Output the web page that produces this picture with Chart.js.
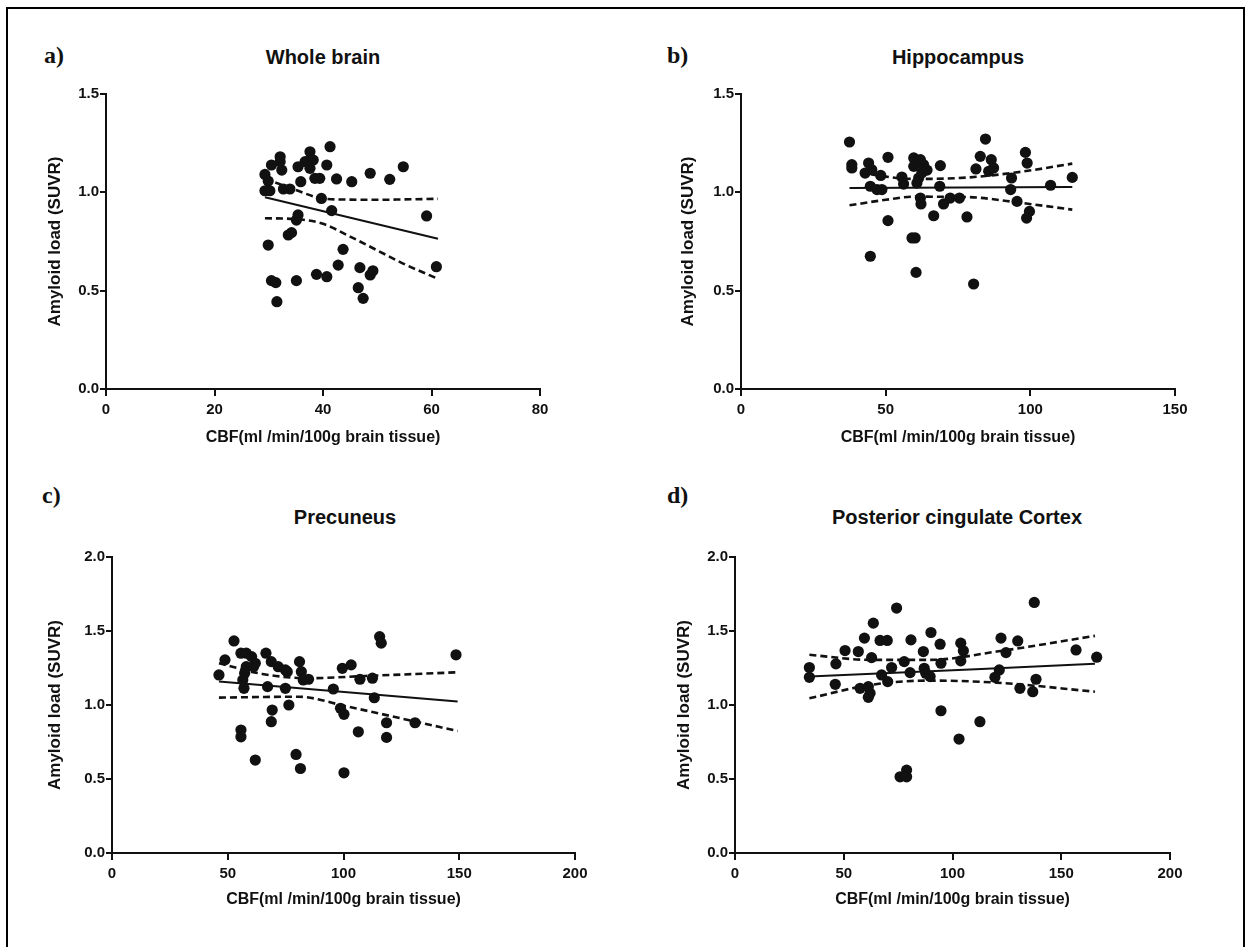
<!DOCTYPE html>
<html>
<head>
<meta charset="utf-8">
<title>CBF vs amyloid load</title>
<script src="https://cdn.jsdelivr.net/npm/chart.js@4.4.1/dist/chart.umd.min.js"></script>
<style>
  html, body { margin:0; padding:0; background:#fff; }
  #page { position:relative; width:1250px; height:947px; overflow:hidden; font-family:"Liberation Sans", Arial, sans-serif; }
  #frame { position:absolute; left:6px; top:7px; width:1235px; height:980px; border:2px solid #000; }
  .panel { position:absolute; }
  .tag { position:absolute; font-family:"Liberation Serif", "Times New Roman", serif; font-weight:bold; font-size:24px; line-height:24px; color:#111; }
  .ttl { position:absolute; width:400px; text-align:center; font-weight:bold; font-size:20px; line-height:24px; color:#111; }
</style>
</head>
<body>
<div id="page">
  <div id="frame"></div>

  <div class="tag" style="left:44px; top:43px;">a)</div>
  <div class="tag" style="left:667px; top:43px;">b)</div>
  <div class="tag" style="left:42px; top:483px;">c)</div>
  <div class="tag" style="left:667px; top:483px;">d)</div>

  <div class="ttl" style="left:123px; top:45px;">Whole brain</div>
  <div class="ttl" style="left:758px; top:45px;">Hippocampus</div>
  <div class="ttl" style="left:145px; top:505px;">Precuneus</div>
  <div class="ttl" style="left:757px; top:505px;">Posterior cingulate Cortex</div>

  <canvas id="cA" class="panel" width="625" height="470" style="left:0; top:0;"></canvas>
  <canvas id="cB" class="panel" width="625" height="470" style="left:625px; top:0;"></canvas>
  <canvas id="cC" class="panel" width="625" height="477" style="left:0; top:470px;"></canvas>
  <canvas id="cD" class="panel" width="625" height="477" style="left:625px; top:470px;"></canvas>
</div>

<script>
// ---- values ----

// a) whole brain
const wholeCBF  = [41.3, 37.6, 32.1, 32.1, 30.5, 32.4, 29.3, 29.9, 29.3, 30.2, 37.6, 36.7, 38.2, 35.4, 37.6, 40.7,
                   35.9, 38.5, 39.4, 42.5, 45.3, 48.7, 52.3, 54.8, 32.7, 33.9, 39.7, 41.6, 59.1, 35.4, 35.1, 33.6,
                   34.2, 29.9, 43.7, 42.8, 46.8, 48.7, 49.2, 60.9, 38.8, 40.7, 35.1, 30.5, 31.3, 46.5, 47.4, 31.5];
const wholeSUVR = [1.232, 1.206, 1.181, 1.156, 1.139, 1.113, 1.091, 1.057, 1.008, 1.008, 1.164, 1.156, 1.164, 1.130, 1.122, 1.139,
                   1.054, 1.071, 1.071, 1.068, 1.054, 1.097, 1.066, 1.130, 1.017, 1.017, 0.969, 0.907, 0.880, 0.885, 0.859, 0.783,
                   0.795, 0.732, 0.710, 0.630, 0.617, 0.580, 0.601, 0.622, 0.583, 0.571, 0.551, 0.551, 0.541, 0.515, 0.461, 0.444];
const wholeFitX   = [29.3, 61.2];
const wholeFitY   = [0.975, 0.764];
const wholeBandX  = [29.3, 35, 40, 45, 50, 55, 61.2];
const wholeUpper  = [1.070, 1.012, 0.968, 0.963, 0.962, 0.964, 0.967];
const wholeLower  = [0.868, 0.864, 0.840, 0.775, 0.705, 0.635, 0.560];

// b) hippocampus
const hippoCBF  = [37.5, 84.5, 38.3, 38.3, 44.1, 42.9, 45.2, 48.3, 50.8, 55.6, 56.2, 59.7, 62.0, 59.7, 63.1, 64.3,
                   61.4, 60.8, 62.5, 68.9, 68.7, 82.7, 81.2, 86.5, 87.3, 85.6, 98.3, 98.9, 93.5, 93.2, 107.0, 114.5,
                   44.7, 47.0, 48.7, 62.0, 62.2, 70.0, 72.3, 75.5, 66.6, 78.1, 95.4, 99.7, 98.7, 50.8, 60.2, 59.1,
                   44.7, 60.5, 80.4];
const hippoSUVR = [1.256, 1.271, 1.141, 1.124, 1.149, 1.098, 1.115, 1.086, 1.178, 1.078, 1.042, 1.175, 1.166, 1.132, 1.141, 1.113,
                   1.073, 1.047, 1.100, 1.136, 1.031, 1.183, 1.119, 1.166, 1.124, 1.107, 1.203, 1.149, 1.073, 1.014, 1.036, 1.076,
                   1.031, 1.014, 1.014, 0.971, 0.941, 0.941, 0.971, 0.971, 0.881, 0.875, 0.954, 0.903, 0.869, 0.856, 0.768, 0.768,
                   0.675, 0.593, 0.534];
const hippoFitX   = [37.5, 114.5];
const hippoFitY   = [1.022, 1.027];
const hippoBandX  = [37.5, 50, 60, 78, 97, 114.5];
const hippoUpper  = [1.115, 1.080, 1.068, 1.075, 1.105, 1.146];
const hippoLower  = [0.934, 0.962, 0.978, 0.976, 0.946, 0.912];

// c) precuneus
const precCBF  = [52.7, 48.8, 46.2, 55.7, 58.0, 60.3, 61.9, 58.0, 57.3, 56.5, 57.0, 61.1, 66.5, 68.8, 71.8, 74.9,
                  75.7, 81.0, 81.8, 82.6, 84.9, 67.2, 74.9, 76.4, 69.2, 68.8, 55.7, 55.7, 61.9, 79.5, 81.4, 100.2,
                  99.5, 103.3, 107.1, 112.5, 95.6, 113.3, 98.7, 100.2, 106.4, 118.6, 118.6, 130.9, 115.6, 116.3, 148.6];
const precSUVR = [1.433, 1.305, 1.203, 1.350, 1.350, 1.327, 1.282, 1.259, 1.215, 1.169, 1.113, 1.259, 1.350, 1.293, 1.259, 1.237,
                  1.225, 1.293, 1.225, 1.169, 1.174, 1.124, 1.113, 1.000, 0.966, 0.887, 0.831, 0.785, 0.628, 0.666, 0.571, 0.542,
                  1.248, 1.271, 1.174, 1.181, 1.108, 1.049, 0.978, 0.937, 0.819, 0.880, 0.781, 0.880, 1.462, 1.418, 1.339];
const precFitX    = [46.2, 149.3];
const precFitY    = [1.158, 1.023];
const precUpperX  = [46.2, 64.9, 84.9, 109.4, 149.3];
const precUpper   = [1.282, 1.210, 1.181, 1.196, 1.221];
const precLowerX  = [46.2, 80.3, 101.8, 124.8, 149.3];
const precLower   = [1.050, 1.056, 0.989, 0.910, 0.824];

// d) posterior cingulate cortex
const pccCBF  = [74.3, 63.6, 59.5, 66.7, 70.0, 80.9, 90.1, 94.3, 103.8, 105.0, 103.8, 122.3, 130.0, 124.6, 137.6, 50.6,
                 56.7, 46.4, 34.2, 34.2, 62.8, 77.8, 86.6, 94.7, 72.0, 80.5, 87.0, 87.7, 89.7, 67.4, 70.2, 57.5,
                 61.3, 62.1, 61.3, 46.1, 121.5, 119.5, 131.0, 136.9, 138.4, 94.7, 112.6, 103.0, 75.9, 78.9, 78.9, 156.8,
                 166.3];
const pccSUVR = [1.655, 1.553, 1.452, 1.436, 1.436, 1.440, 1.490, 1.411, 1.418, 1.366, 1.298, 1.452, 1.433, 1.354, 1.693, 1.368,
                 1.361, 1.278, 1.253, 1.187, 1.320, 1.293, 1.361, 1.282, 1.253, 1.219, 1.248, 1.215, 1.192, 1.203, 1.158, 1.113,
                 1.124, 1.079, 1.052, 1.140, 1.237, 1.187, 1.113, 1.090, 1.174, 0.961, 0.887, 0.770, 0.515, 0.560, 0.515, 1.372,
                 1.323];
const pccFitX   = [34.2, 165.5];
const pccFitY   = [1.192, 1.278];
const pccBandX  = [34.2, 62.1, 89.7, 120.3, 165.5];
const pccUpper  = [1.339, 1.305, 1.305, 1.361, 1.467];
const pccLower  = [1.045, 1.135, 1.165, 1.151, 1.090];

// tick labels
const xTicksWhole = [0, 20, 40, 60, 80];
const xTicksHippo = [0, 50, 100, 150];
const xTicks200   = [0, 50, 100, 150, 200];
const yTicks15    = [0, 0.5, 1.0, 1.5];
const yTicks20    = [0, 0.5, 1.0, 1.5, 2.0];

const yLabel = 'Amyloid load (SUVR)';
const xLabel = 'CBF(ml /min/100g brain tissue)';

// ---- drawing ----
const INK = '#111';
const FAMILY = '"Liberation Sans", Arial, sans-serif';
const Y_TITLE_FONT = {family: FAMILY, size: 17, weight: 'bold'};
const X_TITLE_FONT = {family: FAMILY, size: 16, weight: 'bold'};
const TICK_FONT = {family: FAMILY, size: 15, weight: 'bold'};

function pts(xs, ys) {
  return xs.map(function(x, i){ return {x: x, y: ys[i]}; });
}

function lineSet(xs, ys, dashed) {
  return {
    data: pts(xs, ys),
    showLine: true,
    pointRadius: 0,
    borderColor: INK,
    borderWidth: dashed ? 2.6 : 2,
    borderDash: dashed ? [7, 4] : [],
    tension: dashed ? 0.4 : 0,
    cubicInterpolationMode: 'monotone',
    order: 2
  };
}

// p: where the plot box and axis titles sit, in canvas pixels
function makePanel(id, p) {
  const canvas = document.getElementById(id);
  const padLeft = p.yTitleX - Y_TITLE_FONT.size * 1.2 / 2;
  const xBottom = p.xTitleY + X_TITLE_FONT.size * 1.2 / 2;

  const datasets = [
    {
      data: pts(p.xs, p.ys),
      pointRadius: 5.6,
      pointBackgroundColor: INK,
      pointBorderColor: INK,
      pointBorderWidth: 0,
      order: 1
    },
    lineSet(p.fitX, p.fitY, false),
    lineSet(p.upX, p.up, true),
    lineSet(p.loX, p.lo, true)
  ];

  new Chart(canvas, {
    type: 'scatter',
    data: {datasets: datasets},
    options: {
      responsive: false,
      animation: false,
      devicePixelRatio: 1,
      layout: {padding: {left: padLeft, top: p.top, right: canvas.width - p.right, bottom: canvas.height - xBottom}},
      plugins: {legend: {display: false}, tooltip: {enabled: false}},
      datasets: {scatter: {clip: false}},
      scales: {
        x: {
          type: 'linear', min: p.xTicks[0], max: p.xTicks[p.xTicks.length - 1],
          afterFit: function(s){ s.height = xBottom - p.bottom; },
          afterBuildTicks: function(s){ s.ticks = p.xTicks.map(function(v){ return {value: v}; }); },
          grid: {drawOnChartArea: false, drawTicks: true, tickLength: 7, color: INK, lineWidth: 2},
          border: {display: true, color: INK, width: 2},
          ticks: {color: INK, font: TICK_FONT, padding: 5, maxRotation: 0, autoSkip: false},
          title: {display: true, text: xLabel, color: INK, font: X_TITLE_FONT, padding: 0}
        },
        y: {
          type: 'linear', min: 0, max: p.yTicks[p.yTicks.length - 1],
          afterFit: function(s){ s.width = p.left - padLeft; },
          afterBuildTicks: function(s){ s.ticks = p.yTicks.map(function(v){ return {value: v}; }); },
          grid: {drawOnChartArea: false, drawTicks: true, tickLength: 6, color: INK, lineWidth: 2},
          border: {display: true, color: INK, width: 2},
          ticks: {color: INK, font: TICK_FONT, padding: 1, autoSkip: false,
                  callback: function(v){ return Number(v).toFixed(1); }},
          title: {display: true, text: yLabel, color: INK, font: Y_TITLE_FONT, padding: 0}
        }
      }
    }
  });
}

makePanel('cA', {xs: wholeCBF, ys: wholeSUVR, fitX: wholeFitX, fitY: wholeFitY,
  upX: wholeBandX, up: wholeUpper, loX: wholeBandX, lo: wholeLower,
  xTicks: xTicksWhole, yTicks: yTicks15,
  left: 106, right: 540, top: 94, bottom: 389, yTitleX: 55, xTitleY: 438});

makePanel('cB', {xs: hippoCBF, ys: hippoSUVR, fitX: hippoFitX, fitY: hippoFitY,
  upX: hippoBandX, up: hippoUpper, loX: hippoBandX, lo: hippoLower,
  xTicks: xTicksHippo, yTicks: yTicks15,
  left: 116, right: 550, top: 94, bottom: 389, yTitleX: 63, xTitleY: 438});

makePanel('cC', {xs: precCBF, ys: precSUVR, fitX: precFitX, fitY: precFitY,
  upX: precUpperX, up: precUpper, loX: precLowerX, lo: precLower,
  xTicks: xTicks200, yTicks: yTicks20,
  left: 112, right: 575, top: 87, bottom: 383, yTitleX: 55, xTitleY: 430});

makePanel('cD', {xs: pccCBF, ys: pccSUVR, fitX: pccFitX, fitY: pccFitY,
  upX: pccBandX, up: pccUpper, loX: pccBandX, lo: pccLower,
  xTicks: xTicks200, yTicks: yTicks20,
  left: 110, right: 545, top: 87, bottom: 383, yTitleX: 59, xTitleY: 430});
</script>
</body>
</html>
